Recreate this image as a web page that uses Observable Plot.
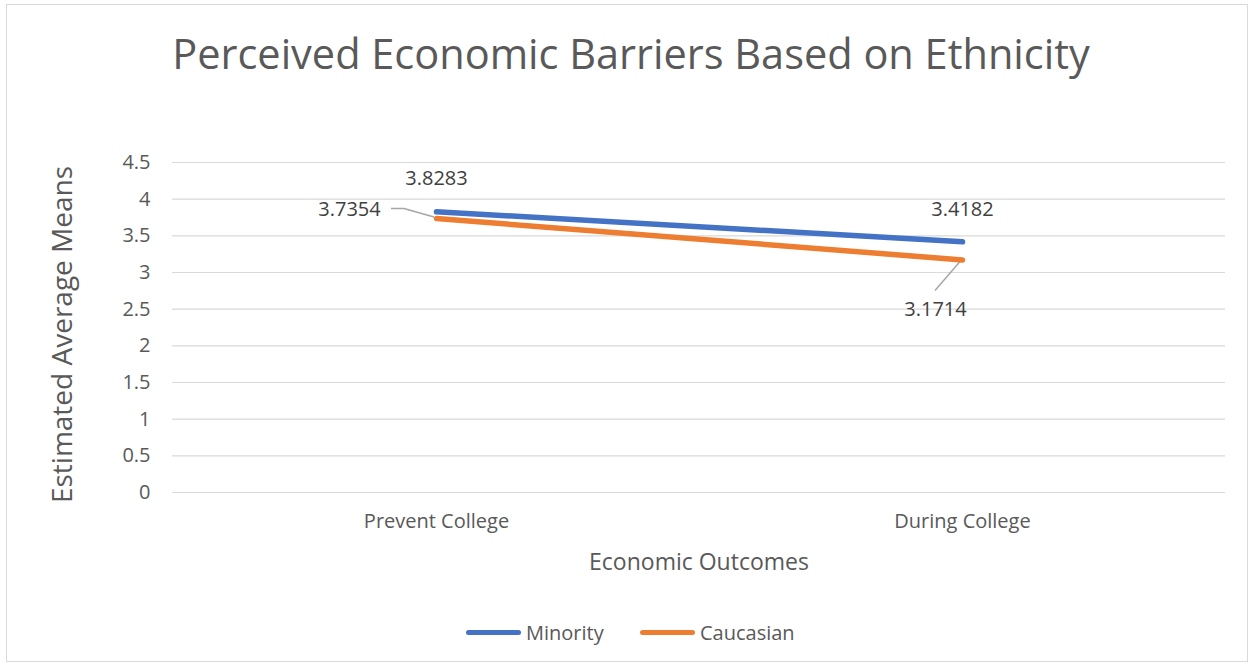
<!DOCTYPE html>
<html>
<head>
<meta charset="utf-8">
<script src="https://cdn.jsdelivr.net/npm/d3@7"></script>
<script src="https://cdn.jsdelivr.net/npm/@observablehq/plot@0.6"></script>
<style>
  html, body { margin: 0; padding: 0; background: #fff; }
  #wrap { position: relative; width: 1253px; height: 667px; overflow: hidden; font-family: "Open Sans", sans-serif; color: #595959; }
  #border { position: absolute; left: 6px; top: 4px; width: 1240px; height: 656px; border: 1.5px solid #d9d9d9; }
  #title { position: absolute; left: 0; width: 1262px; top: 29px; text-align: center; font-size: 41.5px; line-height: 1.2; }
  #chart { position: absolute; left: 0; top: 130px; }
  #legend { position: absolute; left: 0; top: 618px; width: 1253px; height: 28px; font-size: 20px; }
  .item { position: absolute; top: 0; display: flex; align-items: center; height: 28px; }
  .sw { display: inline-block; width: 55px; height: 5px; border-radius: 3px; margin-right: 5px; }
</style>
</head>
<body>
<div id="wrap">
  <div id="border"></div>
  <div id="title">Perceived Economic Barriers Based on Ethnicity</div>
  <div id="chart"></div>
  <div id="legend"></div>
</div>
<script>
// ---- data ----
const categories = ["Prevent College", "During College"];
const seriesNames = ["Minority", "Caucasian"];
const minority = [3.8283, 3.4182];
const caucasian = [3.7354, 3.1714];
const seriesColors = ["#4472C4", "#ED7D31"];
const yTicks = [0, 0.5, 1, 1.5, 2, 2.5, 3, 3.5, 4, 4.5];
const yTitle = "Estimated Average Means";
const xTitle = "Economic Outcomes";

// table built from arrays
const rows = [];
categories.forEach((c, i) => {
  rows.push({cat: c, series: seriesNames[0], value: minority[i]});
  rows.push({cat: c, series: seriesNames[1], value: caucasian[i]});
});

// label offsets (pixels) per row, in rows order
const labelOffsets = [[0, -33], [-87, -9], [0, -32], [-27, 50]];

// leader lines (pixel offsets from the point)
const leaders = [
  {row: rows[1], pts: [[-45, -9.6], [-32, -9.6], [-2, -1]]},
  {row: rows[3], pts: [[-2, 2], [-27, 31]]}
];

function leaderMark(index, scales) {
  const g = d3.create("svg:g");
  for (const l of leaders) {
    const px = scales.x(l.row.cat), py = scales.y(l.row.value);
    g.append("path")
      .attr("d", d3.line()(l.pts.map(([dx, dy]) => [px + dx, py + dy])))
      .attr("fill", "none").attr("stroke", "#a6a6a6").attr("stroke-width", 1.5);
  }
  return g.node();
}

const labelMarks = rows.map((r, i) =>
  Plot.text([r], {x: "cat", y: "value", text: d => d.value.toFixed(4),
    dx: labelOffsets[i][0], dy: labelOffsets[i][1], fill: "#404040", fontSize: 20})
);

const chart = Plot.plot({
  width: 1253,
  height: 460,
  marginTop: 32,
  marginBottom: 98,
  marginLeft: 172,
  marginRight: 28,
  style: {fontFamily: "Open Sans, sans-serif", fontSize: "20px", color: "#595959", background: "transparent"},
  x: {type: "point", domain: categories, padding: 0.5, tickSize: 0, tickPadding: 21, label: null},
  y: {domain: [0, 4.5], ticks: yTicks, tickSize: 0, tickPadding: 22, label: null, tickFormat: d => String(d)},
  color: {domain: seriesNames, range: seriesColors},
  marks: [
    Plot.ruleY(yTicks, {stroke: "#d9d9d9", strokeWidth: 1.2}),
    leaderMark,
    Plot.line(rows, {x: "cat", y: "value", z: "series", stroke: "series", strokeWidth: 5.5, strokeLinecap: "round"}),
    ...labelMarks,
    Plot.text([yTitle], {frameAnchor: "left", text: d => d, dx: -109, dy: 7, rotate: -90, textAnchor: "middle", fontSize: 28, fill: "#595959"}),
    Plot.text([xTitle], {frameAnchor: "bottom", text: d => d, dy: 77, fontSize: 23, fill: "#595959"})
  ]
});
document.getElementById("chart").appendChild(chart);

// legend
const legend = document.getElementById("legend");
const legendLeft = [466, 640];
seriesNames.forEach((name, i) => {
  const it = document.createElement("div");
  it.className = "item";
  it.style.left = legendLeft[i] + "px";
  const sw = document.createElement("span");
  sw.className = "sw";
  sw.style.background = seriesColors[i];
  const tx = document.createElement("span");
  tx.textContent = name;
  it.appendChild(sw); it.appendChild(tx);
  legend.appendChild(it);
});
</script>
</body>
</html>
